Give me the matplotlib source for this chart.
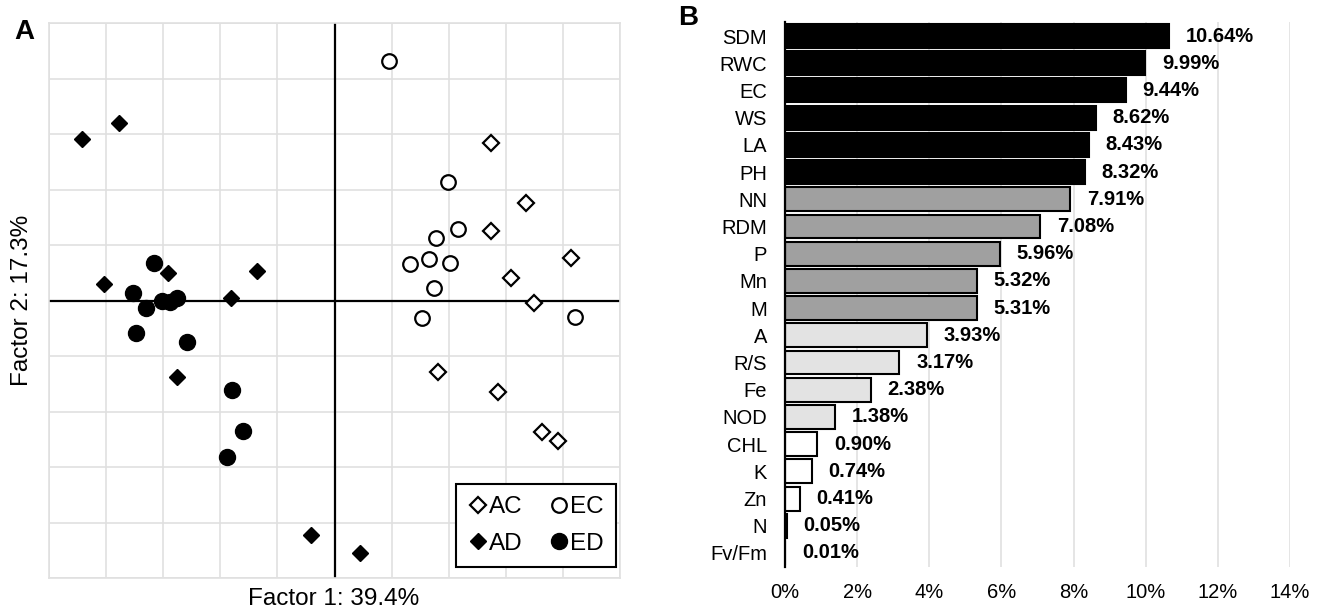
import numpy as np
import matplotlib
matplotlib.use("Agg")
import matplotlib.pyplot as plt
from matplotlib.lines import Line2D

plt.rcParams['font.family'] = ['Liberation Sans', 'DejaVu Sans']

# --- panel A: factor scores (grid units) ---
ac_x = [2.74, 3.35, 2.74, 4.14, 3.09, 3.49, 1.82, 2.86, 3.63, 3.91]
ac_y = [2.84, 1.76, 1.26, 0.77, 0.41, -0.05, -1.29, -1.65, -2.37, -2.54]
ec_x = [0.96, 1.98, 2.16, 1.77, 1.65, 1.32, 2.02, 1.74, 1.53, 4.21]
ec_y = [4.32, 2.14, 1.28, 1.12, 0.74, 0.65, 0.68, 0.23, -0.32, -0.29]
ad_x = [-4.42, -3.77, -4.04, -2.91, -1.35, -1.81, -2.75, -0.42, 0.44]
ad_y = [2.91, 3.20, 0.29, 0.49, 0.54, 0.04, -1.37, -4.23, -4.55]
ed_x = [-3.16, -3.53, -3.30, -3.02, -2.88, -2.75, -3.47, -2.58, -1.79, -1.61, -1.89]
ed_y = [0.68, 0.14, -0.13, 0.0, -0.02, 0.05, -0.58, -0.74, -1.62, -2.36, -2.82]

# --- panel B: variable contributions ---
variables = ["SDM", "RWC", "EC", "WS", "LA", "PH", "NN", "RDM", "P", "Mn",
             "M", "A", "R/S", "Fe", "NOD", "CHL", "K", "Zn", "N", "Fv/Fm"]
contrib = [10.64, 9.99, 9.44, 8.62, 8.43, 8.32, 7.91, 7.08, 5.96, 5.32,
           5.31, 3.93, 3.17, 2.38, 1.38, 0.90, 0.74, 0.41, 0.05, 0.01]
bar_colors = ["black"] * 6 + ["#a0a0a0"] * 5 + ["#e3e3e3"] * 4 + ["white"] * 5
xticks_b = [0, 2, 4, 6, 8, 10, 12, 14]

W, H = 1320, 611
fig = plt.figure(figsize=(W / 100, H / 100), dpi=100)

# panel A
ax1 = fig.add_axes([49 / W, 1 - 578 / H, 571 / W, 555 / H])
ax1.set_xlim(-5, 5)
ax1.set_ylim(-5, 5)
ax1.set_xticks(np.arange(-5, 6))
ax1.set_yticks(np.arange(-5, 6))
ax1.set_axisbelow(True)
ax1.grid(True, color="#e0e0e0", lw=1.2)
ax1.tick_params(length=0, labelbottom=False, labelleft=False)
for s in ax1.spines.values():
    s.set_color("#e0e0e0")
    s.set_linewidth(1.2)
ax1.axhline(0, color="black", lw=1.6, zorder=2)
ax1.axvline(0, color="black", lw=1.6, zorder=2)

ax1.plot(ac_x, ac_y, ls="none", marker="D", ms=8, mfc="white", mec="black", mew=1.6, zorder=3)
ax1.plot(ec_x, ec_y, ls="none", marker="o", ms=10.5, mfc="white", mec="black", mew=1.6, zorder=3)
ax1.plot(ad_x, ad_y, ls="none", marker="D", ms=8.5, mfc="black", mec="black", zorder=3)
ax1.plot(ed_x, ed_y, ls="none", marker="o", ms=11.5, mfc="black", mec="black", zorder=3)

handles = [
    Line2D([], [], ls="none", marker="D", ms=8, mfc="white", mec="black", mew=1.6),
    Line2D([], [], ls="none", marker="D", ms=8.5, mfc="black", mec="black"),
    Line2D([], [], ls="none", marker="o", ms=10.5, mfc="white", mec="black", mew=1.6),
    Line2D([], [], ls="none", marker="o", ms=11.5, mfc="black", mec="black"),
]
leg = ax1.legend(handles, ["AC", "AD", "EC", "ED"], ncol=2, loc="lower right",
                 bbox_to_anchor=(0.993, 0.02), borderaxespad=0, fancybox=False,
                 framealpha=1, edgecolor="black", fontsize=17.5, handlelength=0.8,
                 handletextpad=0.05, columnspacing=1.1, labelspacing=0.6,
                 borderpad=0.5)
leg.get_frame().set_linewidth(1.5)
leg.set_zorder(5)

fig.text(334 / W, 1 - 599 / H, "Factor 1: 39.4%", ha="center", va="center", fontsize=17.5)
fig.text(22 / W, 1 - 300 / H, "Factor 2: 17.3%", ha="center", va="center",
         rotation=90, fontsize=17.5)
fig.text(24 / W, 1 - 32 / H, "A", ha="center", va="center", fontsize=20, fontweight="bold")

# panel B
ax2 = fig.add_axes([785 / W, 1 - 566.6 / H, 505 / W, 544.2 / H])
ypos = np.arange(len(variables))
ax2.barh(ypos, contrib, height=0.88, color=bar_colors, edgecolor="black", lw=1.5, zorder=3)
ax2.set_ylim(len(variables) - 0.5, -0.5)
ax2.set_xlim(0, 14)
ax2.set_yticks(ypos)
ax2.set_yticklabels(variables, fontsize=14.5)
ax2.set_xticks(xticks_b)
ax2.set_xticklabels([f"{t}%" for t in xticks_b], fontsize=14.5)
ax2.tick_params(axis="y", length=0, pad=13)
ax2.tick_params(axis="x", length=0, pad=12)
ax2.grid(True, axis="x", color="#e0e0e0", lw=1.2, zorder=0)
for side in ["top", "right", "bottom"]:
    ax2.spines[side].set_visible(False)
ax2.spines["left"].set_linewidth(1.6)
ax2.spines["left"].set_zorder(4)

for i, v in enumerate(contrib):
    ax2.annotate(f"{v:.2f}%", (v, i), xytext=(12, 0), textcoords="offset points",
                 ha="left", va="center", fontsize=14.5, fontweight="bold")

fig.text(688 / W, 1 - 18 / H, "B", ha="center", va="center", fontsize=20, fontweight="bold")

fig.savefig("out.png", dpi=100)
